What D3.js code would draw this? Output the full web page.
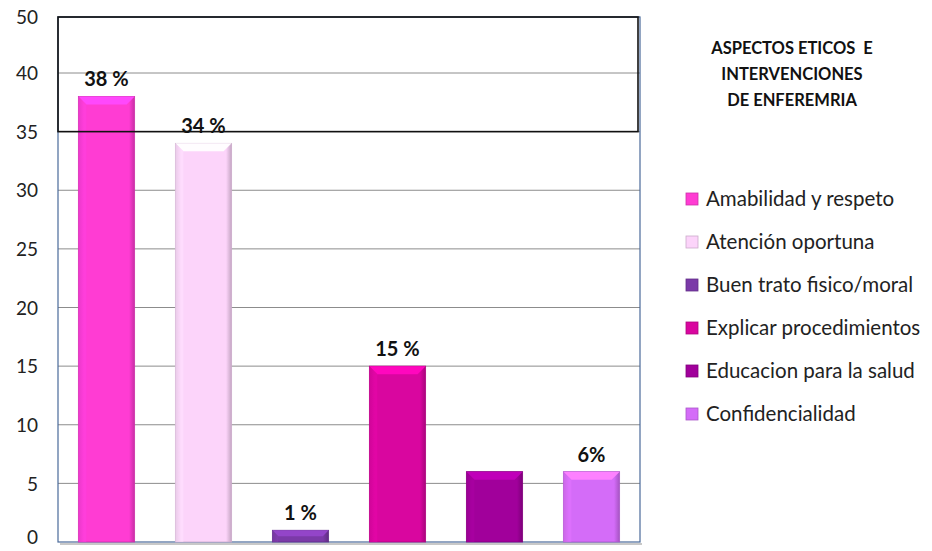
<!DOCTYPE html>
<html>
<head>
<meta charset="utf-8">
<script src="https://cdn.jsdelivr.net/npm/d3@7"></script>
<style>
  body { margin: 0; background: #fff; }
  svg { font-family: Lato, "Open Sans", sans-serif; }
</style>
</head>
<body>
<div id="chart"></div>
<script>
const categories = [
  "Amabilidad y respeto",
  "Atención oportuna",
  "Buen trato fisico/moral",
  "Explicar procedimientos",
  "Educacion para la salud",
  "Confidencialidad"
];
const values = [38, 34, 1, 15, 6, 6];
const valueLabels = ["38 %", "34 %", "1 %", "15 %", "", "6%"];
const colors = ["#ff3cd3", "#fcd4fa", "#7b3aa8", "#d9069f", "#a1009b", "#d46cf8"];
const tickValues = [0, 5, 10, 15, 20, 25, 30, 35, 40, 50];
const titleLines = ["ASPECTOS ETICOS  E", "INTERVENCIONES", "DE ENFEREMRIA"];

const width = 932;
const height = 551;
const plot = { left: 58, right: 640, top: 17, bottom: 542 };

const svg = d3.select("#chart").append("svg")
  .attr("width", width)
  .attr("height", height);

// axis is broken above 40: 40..50 is squeezed
const y = d3.scaleLinear()
  .domain([0, 40, 50])
  .range([plot.bottom, 73, plot.top]);

const x = d3.scaleBand()
  .domain(categories)
  .range([plot.left, plot.right])
  .paddingInner(0.42)
  .paddingOuter(0.21);

// gridlines
svg.append("g")
  .selectAll("line")
  .data(tickValues.filter(d => d > 0))
  .join("line")
  .attr("x1", plot.left)
  .attr("x2", plot.right)
  .attr("y1", d => y(d))
  .attr("y2", d => y(d))
  .attr("stroke", "#8c8c8c")
  .attr("stroke-width", 1);

// plot frame
svg.append("rect")
  .attr("x", plot.left)
  .attr("y", plot.top)
  .attr("width", plot.right - plot.left)
  .attr("height", plot.bottom - plot.top)
  .attr("fill", "none")
  .attr("stroke", "#4a6a9a")
  .attr("stroke-width", 1.2);

// bottom shadow
svg.append("line")
  .attr("x1", plot.left + 2).attr("x2", plot.right + 2)
  .attr("y1", plot.bottom + 2).attr("y2", plot.bottom + 2)
  .attr("stroke", "#c8c8c8").attr("stroke-width", 2);

// y tick labels
const yAxis = d3.axisLeft(y).tickValues(tickValues).tickSize(0).tickPadding(0);
const ya = svg.append("g")
  .attr("transform", `translate(38,0)`)
  .call(yAxis);
ya.select(".domain").remove();
ya.selectAll("text")
  .attr("font-family", "Lato, 'Open Sans', sans-serif")
  .attr("font-size", 19)
  .attr("fill", "#222")
  .attr("dy", d => d === 0 ? "0.1em" : "0.35em");

// bar gradients
const defs = svg.append("defs");
colors.forEach((c, i) => {
  const g = defs.append("linearGradient")
    .attr("id", "side" + i)
    .attr("x1", 0).attr("x2", 1).attr("y1", 0).attr("y2", 0);
  g.append("stop").attr("offset", "0%").attr("stop-color", d3.color(c).darker(0.5));
  g.append("stop").attr("offset", "10%").attr("stop-color", c);
  g.append("stop").attr("offset", "90%").attr("stop-color", c);
  g.append("stop").attr("offset", "100%").attr("stop-color", d3.color(c).darker(0.7));
});

const bars = svg.append("g")
  .selectAll("g")
  .data(categories.map((c, i) => ({ cat: c, v: values[i], i })))
  .join("g");

bars.append("rect")
  .attr("x", d => x(d.cat))
  .attr("y", d => y(d.v))
  .attr("width", x.bandwidth())
  .attr("height", d => plot.bottom - y(d.v))
  .attr("fill", d => `url(#side${d.i})`)
  .attr("stroke", d => d3.color(colors[d.i]).darker(0.6))
  .attr("stroke-width", 0.8);

// bevel on top
const bev = 8;
bars.append("path")
  .attr("d", d => {
    const x0 = x(d.cat), x1 = x0 + x.bandwidth(), t = y(d.v);
    const b = Math.min(bev, (plot.bottom - t) / 2);
    return `M${x0},${t}L${x1},${t}L${x1 - b},${t + b}L${x0 + b},${t + b}Z`;
  })
  .attr("fill", d => d3.color(colors[d.i]).brighter(0.5));

bars.append("path")
  .attr("d", d => {
    const x0 = x(d.cat), t = y(d.v), bt = plot.bottom;
    const b = Math.min(bev, (bt - t) / 2);
    return `M${x0},${t}L${x0 + b},${t + b}L${x0 + b},${bt}L${x0},${bt}Z`;
  })
  .attr("fill", d => d3.color(colors[d.i]).brighter(0.2))
  .attr("opacity", 0.5);

// top box over 35..50
svg.append("rect")
  .attr("x", plot.left)
  .attr("y", plot.top)
  .attr("width", plot.right - 2 - plot.left)
  .attr("height", y(35) - plot.top)
  .attr("fill", "none")
  .attr("stroke", "#111")
  .attr("stroke-width", 1.6);

// value labels
bars.append("text")
  .attr("x", d => x(d.cat) + x.bandwidth() / 2)
  .attr("y", d => y(d.v) - 10)
  .attr("text-anchor", "middle")
  .attr("font-size", 20)
  .attr("font-weight", "bold")
  .attr("fill", "#111")
  .text(d => valueLabels[d.i]);

// legend title
svg.append("g")
  .selectAll("text")
  .data(titleLines)
  .join("text")
  .attr("x", 792)
  .attr("y", (d, i) => 54 + i * 26)
  .attr("text-anchor", "middle")
  .attr("font-size", 16.5)
  .attr("font-weight", "bold")
  .attr("fill", "#111")
  .style("white-space", "pre")
  .text(d => d);

// legend items
const leg = svg.append("g")
  .selectAll("g")
  .data(categories)
  .join("g")
  .attr("transform", (d, i) => `translate(686,${199 + i * 43})`);

leg.append("rect")
  .attr("x", 0).attr("y", -6)
  .attr("width", 12).attr("height", 12)
  .attr("fill", (d, i) => colors[i])
  .attr("stroke", (d, i) => d3.color(colors[i]).darker(0.6))
  .attr("stroke-width", 0.8);

leg.append("text")
  .attr("x", 20)
  .attr("dy", "0.35em")
  .attr("font-size", 20.5)
  .attr("fill", "#222")
  .text(d => d);
</script>
</body>
</html>
